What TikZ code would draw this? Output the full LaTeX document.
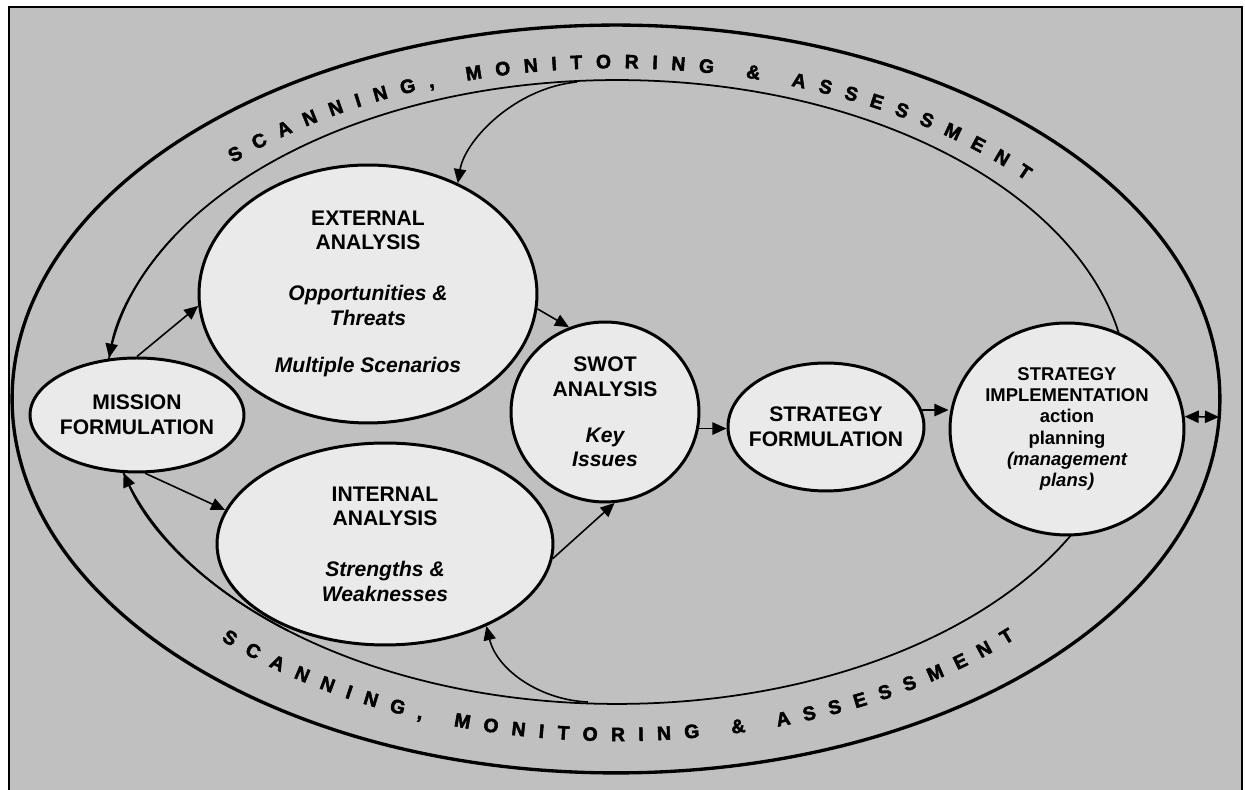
\documentclass[tikz,border=0pt]{standalone}
\usepackage{fontspec}
\setmainfont{Liberation Sans}
\newfontfamily\arcfont{Liberation Sans}[FakeBold=2.5]
\usetikzlibrary{arrows.meta,decorations.text,shapes.geometric}
\definecolor{bggray}{HTML}{C0C0C0}
\definecolor{nodefill}{HTML}{EAEAEA}
\begin{document}
\begin{tikzpicture}[x=0.02cm,y=0.02cm,
  bubble/.style={ellipse, draw, line width=1.7pt, fill=nodefill, inner sep=0pt, align=center,
    font=\bfseries\fontsize{12}{14}\selectfont},
  tip/.style={-{Triangle[length=8pt,width=7pt]}},
  conn/.style={line width=0.9pt, tip},
  band/.style={line width=1.9pt},
  ring/.style={line width=1pt},
  arctext/.style={decorate, decoration={text along path, text align={fit to path},
    text={|\arcfont\bfseries\fontsize{11}{12}\selectfont|SCANNING, MONITORING {\&} ASSESSMENT}}}
]
\useasboundingbox (0,0) rectangle (1245,790);
\fill[bggray] (9,-20) rectangle (1242,783);
\draw[line width=0.8pt] (9,-20) -- (9,783) -- (1242,783) -- (1242,-20);

% scanning band
\draw[band] (616,391) ellipse [x radius=12.08cm, y radius=7.48cm];
\draw[ring] (617,398) ellipse [x radius=10.22cm, y radius=6.24cm];

\path[arctext] (232.9,627.0) arc[start angle=134.3, end angle=41.5, x radius=10.96cm, y radius=6.67cm];
\path[arctext] (221.2,149.9) arc[start angle=225, end angle=315.3, x radius=11.2cm, y radius=6.9cm];

% nodes
\node[bubble, minimum width=4.28cm, minimum height=2.28cm, inner xsep=-4pt] (mission) at (137,375) {MISSION\\FORMULATION};
\node[bubble, minimum width=6.76cm, minimum height=5.16cm] (ext) at (368,496)
  {EXTERNAL\\ANALYSIS\\[15pt]\itshape Opportunities \&\\\itshape Threats\\[13pt]\itshape Multiple Scenarios};
\node[bubble, minimum width=6.72cm, minimum height=4.04cm] (int) at (385,246)
  {INTERNAL\\ANALYSIS\\[15pt]\itshape Strengths \&\\\itshape Weaknesses};
\node[bubble, minimum width=3.76cm, minimum height=3.6cm] (swot) at (605,378)
  {SWOT\\ANALYSIS\\[12pt]\itshape Key\\\itshape Issues};
\node[bubble, minimum width=3.92cm, minimum height=2.56cm, inner xsep=-10pt] (strat) at (826,363)
  {STRATEGY\\FORMULATION};
\node[bubble, minimum width=4.68cm, minimum height=4.24cm, inner xsep=-4pt,
  font=\bfseries\fontsize{10.5}{12}\selectfont] (impl) at (1067,361)
  {STRATEGY\\IMPLEMENTATION\\action\\planning\\\itshape (management\\\itshape plans)};

% connectors
\draw[conn] (mission.north) -- (ext.184);
\draw[conn] (mission.-82) -- (int.168);
\draw[conn] (ext.-5) -- (swot.113);
\draw[conn] (int.-5) -- (swot.-84);
\draw[conn] (swot.-10) -- (swot.-10 -| strat.west);
\draw[conn] (strat.10) -- (strat.10 -| impl.west);
\coordinate (outerR) at (1219,373);
\draw[line width=0.9pt, {Triangle[length=8pt,width=7pt]}-{Triangle[length=8pt,width=7pt]}] (impl.6) -- (outerR);

\coordinate (tA) at (577,708);
\draw[conn] (tA) .. controls (515,702) and (465,650) .. (ext.51);
\coordinate (bA) at (588,88);
\draw[conn] (bA) .. controls (540,90) and (497,120) .. (int.-39);

% inner ring arrows into mission
\draw[ring, tip] (174.5,554) arc[start angle=150, end angle=173.7, x radius=10.22cm, y radius=6.24cm];
\draw[ring, tip] (288.5,159) arc[start angle=230, end angle=195.05, x radius=10.22cm, y radius=6.24cm];
\end{tikzpicture}
\end{document}
